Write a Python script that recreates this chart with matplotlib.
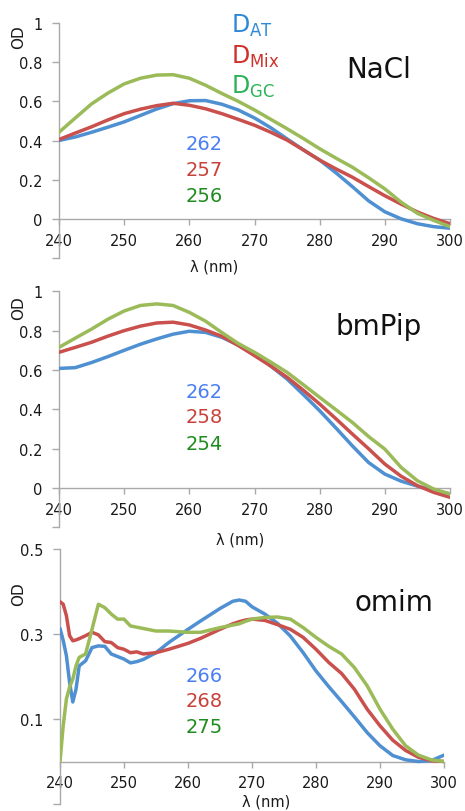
import matplotlib
matplotlib.use("Agg")
import matplotlib.pyplot as plt
import numpy as np

# ---------------- data ----------------
wl_a = [240, 242.5, 245, 247.5, 250, 252.5, 255, 257.5, 260, 262.5, 265, 267.5, 270,
        272.5, 275, 277.5, 280, 282.5, 285, 287.5, 290, 292.5, 295, 297.5, 300]

nacl_at = [.400, .418, .442, .468, .495, .528, .561, .588, .603, .604, .585, .556, .515,
           .465, .408, .352, .300, .235, .165, .092, .036, .000, -.025, -.040, -.048]
nacl_mix = [.405, .438, .470, .505, .537, .560, .578, .590, .580, .562, .537, .508, .478,
            .442, .402, .352, .300, .255, .213, .165, .118, .075, .035, .002, -.025]
nacl_gc = [.442, .515, .587, .642, .689, .718, .734, .736, .718, .682, .640, .600, .556,
           .508, .460, .410, .358, .310, .264, .210, .153, .085, .028, -.008, -.040]

bmpip_at = [.608, .612, .638, .668, .700, .731, .758, .782, .797, .791, .766, .727, .681,
            .620, .554, .475, .393, .305, .215, .130, .071, .035, .010, -.012, -.030]
bmpip_mix = [.690, .715, .741, .772, .800, .823, .839, .843, .829, .803, .771, .725, .673,
             .620, .563, .497, .427, .352, .275, .200, .122, .060, .012, -.022, -.047]
bmpip_gc = [.715, .762, .808, .858, .900, .928, .936, .928, .893, .848, .790, .735, .690,
            .640, .588, .525, .461, .398, .334, .262, .198, .105, .037, -.005, -.030]

wl_o = [240, 240.5, 241, 241.5, 242, 242.5, 243, 244, 245, 246, 247, 248, 249, 250, 251,
        252, 253, 255, 257, 260, 262, 265, 267, 268, 269, 270, 272, 274, 276, 278, 280,
        282, 284, 286, 288, 290, 292, 294, 296, 298, 300]
omim_at = [.313, .285, .249, .186, .140, .170, .225, .237, .268, .272, .271, .253, .247,
           .241, .232, .235, .240, .256, .280, .311, .331, .360, .377, .380, .377, .364,
           .347, .325, .295, .256, .213, .176, .141, .105, .068, .037, .014, .004, .000,
           .002, .015]
omim_mix = [.376, .370, .343, .296, .284, .286, .289, .296, .304, .298, .282, .280, .268,
            .264, .256, .258, .253, .256, .264, .278, .290, .311, .324, .329, .333, .335,
            .332, .322, .311, .292, .264, .233, .207, .170, .123, .084, .050, .026, .010,
            .002, .000]
omim_gc = [.000, .084, .147, .175, .194, .225, .245, .253, .311, .370, .362, .347, .335,
           .335, .319, .316, .313, .307, .307, .304, .304, .315, .321, .324, .330, .335,
           .339, .340, .335, .315, .292, .271, .253, .221, .178, .123, .076, .037, .015,
           .004, .000]

x_ticks = [240, 250, 260, 270, 280, 290, 300]
peaks_nacl = ["262", "257", "256"]
peaks_bmpip = ["262", "258", "254"]
peaks_omim = ["266", "268", "275"]
salts = ["NaCl", "bmPip", "omim"]
legend_labels = [r"D$_{\mathregular{AT}}$", r"D$_{\mathregular{Mix}}$", r"D$_{\mathregular{GC}}$"]

# ---------------- styling ----------------
W, H = 465, 812
line_cols = ["#4f90d2", "#c9504c", "#9bbb59"]
num_cols = ["#4a7ef5", "#c8413b", "#1f8c1f"]
leg_cols = ["#2f88d6", "#d0302a", "#2cb35a"]
axis_col = "#a9a9a9"
txt_col = "#1a1a1a"

def fx(x):
    return x / W

def fy(y):
    return 1 - y / H

fig = plt.figure(figsize=(W / 100, H / 100), dpi=100)

panel_specs = [
    (59, 450, 24.0, 259.0, (-0.2, 1.0), [-0.2, 0, 0.2, 0.4, 0.6, 0.8, 1.0],
     ["", "0", "0.2", "0.4", "0.6", "0.8", "1"], (nacl_at, nacl_mix, nacl_gc), wl_a),
    (59, 450, 292.3, 528.4, (-0.2, 1.0), [-0.2, 0, 0.2, 0.4, 0.6, 0.8, 1.0],
     ["", "0", "0.2", "0.4", "0.6", "0.8", "1"], (bmpip_at, bmpip_mix, bmpip_gc), wl_a),
    (60, 444, 550.0, 805.0, (-0.1, 0.5), [-0.1, 0.1, 0.3, 0.5],
     ["", "0.1", "0.3", "0.5"], (omim_at, omim_mix, omim_gc), wl_o),
]

axes = []
for (l, r, t, b, ylim, yt, yl, series, wl) in panel_specs:
    ax = fig.add_axes([fx(l), fy(b), (r - l) / W, (b - t) / H])
    for s, c in zip(series, line_cols):
        ax.plot(wl, s, color=c, lw=2.5, solid_capstyle="round", zorder=3)
    ax.set_xlim(240, 300)
    ax.set_ylim(*ylim)
    ax.spines["top"].set_visible(False)
    ax.spines["right"].set_visible(False)
    ax.spines["bottom"].set_position(("data", 0))
    for sp in ("left", "bottom"):
        ax.spines[sp].set_color(axis_col)
        ax.spines[sp].set_linewidth(1.0)
    ax.set_xticks(x_ticks)
    ax.set_xticklabels([str(v) for v in x_ticks])
    ax.set_yticks(yt)
    ax.set_yticklabels(yl)
    ax.tick_params(axis="x", direction="out", length=4, width=1, color=axis_col,
                   labelsize=10.5, labelcolor=txt_col, pad=6)
    ax.tick_params(axis="y", direction="out", length=5, width=1, color=axis_col,
                   labelsize=10.5, labelcolor=txt_col, pad=7)
    ax.patch.set_alpha(0)
    axes.append(ax)

# y labels "OD"
for yc in (37, 308, 594):
    fig.text(fx(19), fy(yc), "OD", rotation=90, ha="center", va="center",
             fontsize=11, color=txt_col)

# x labels
for xc, yc in ((214, 267), (240, 540), (266, 802)):
    fig.text(fx(xc), fy(yc), "λ (nm)", ha="center", va="center",
             fontsize=10.5, color=txt_col)

# legend-like labels (panel 1)
for lab, c, yb in zip(legend_labels, leg_cols, (33, 64, 94)):
    fig.text(fx(231), fy(yb), lab, ha="left", va="baseline", fontsize=17, color=c)

# salt names
for name, (xl, yb) in zip(salts, ((346, 78), (336, 335), (354, 611))):
    fig.text(fx(xl), fy(yb), name, ha="left", va="baseline", fontsize=20, color="#111111")

# peak wavelengths
for peaks, ys in ((peaks_nacl, (144, 170, 197)),
                  (peaks_bmpip, (392, 418, 445)),
                  (peaks_omim, (677, 702, 728))):
    for p, c, yc in zip(peaks, num_cols, ys):
        fig.text(fx(186), fy(yc), p, ha="left", va="center", fontsize=14, color=c)

fig.savefig("out.png", dpi=100)
